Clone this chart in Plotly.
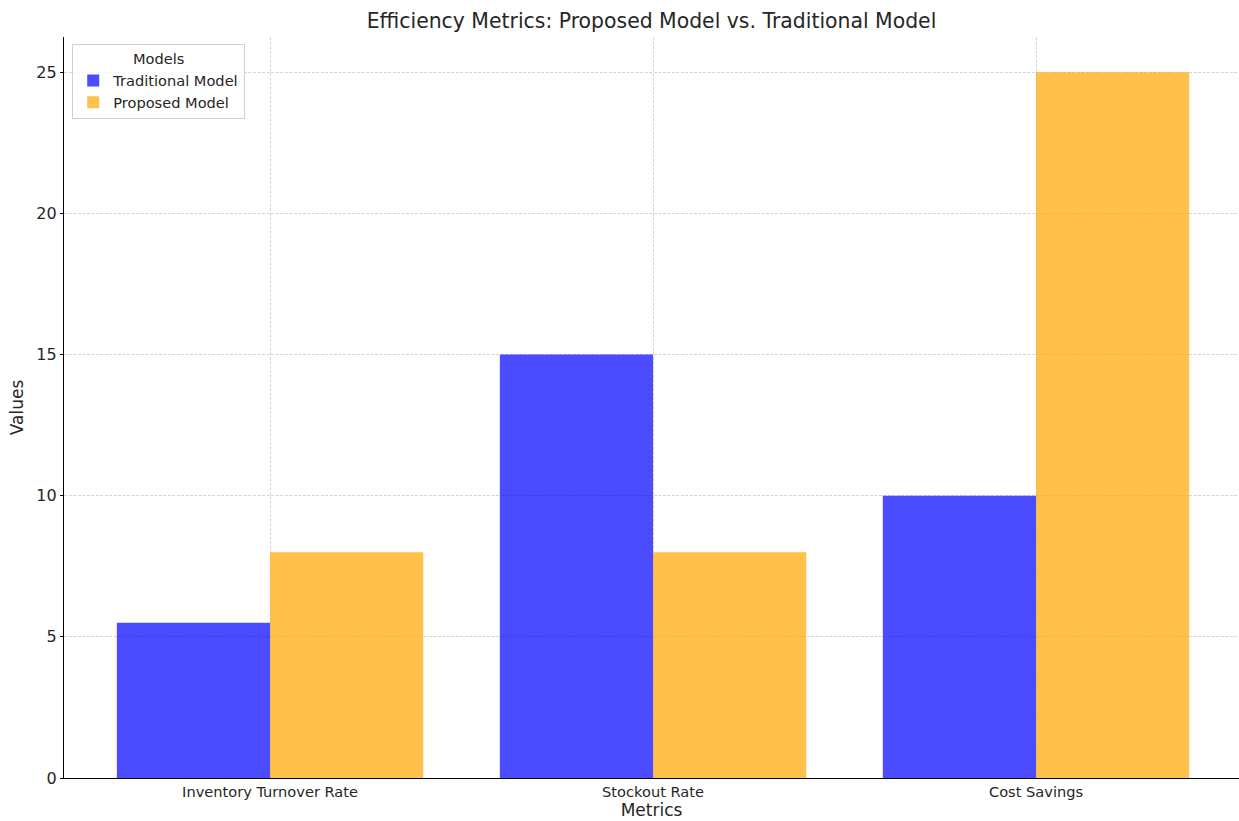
import plotly.graph_objects as go

categories = ["Inventory Turnover Rate", "Stockout Rate", "Cost Savings"]
traditional = [5.5, 15, 10]
proposed = [8, 8, 25]
y_ticks = [0, 5, 10, 15, 20, 25]

FONT = "DejaVu Sans"
fig = go.Figure()
fig.add_trace(go.Bar(x=categories, y=traditional, name="Traditional Model",
                     marker=dict(color="rgba(0,0,255,0.7)", line=dict(width=0))))
fig.add_trace(go.Bar(x=categories, y=proposed, name="Proposed Model",
                     marker=dict(color="rgba(255,165,0,0.7)", line=dict(width=0))))

fig.update_layout(
    width=1239, height=821,
    margin=dict(l=64, r=0, t=37, b=43),
    paper_bgcolor="white", plot_bgcolor="white",
    barmode="group", bargap=0.2, bargroupgap=0,
    font=dict(family=FONT, color="#262626"),
    title=dict(text="Efficiency Metrics: Proposed Model vs. Traditional Model",
               xref="paper", x=0.5, xanchor="center", y=0.975, yanchor="middle",
               font=dict(size=20.4, family=FONT, color="#262626")),
    legend=dict(x=0.007, y=0.99, xanchor="left", yanchor="top",
                bgcolor="rgba(255,255,255,0.8)", bordercolor="#d0d0d0", borderwidth=1,
                title=dict(text="Models", side="top center", font=dict(size=14.6)),
                font=dict(size=14.6), itemsizing="constant", tracegroupgap=0),
    xaxis=dict(range=[-0.538, 2.530], showline=True, linecolor="black", linewidth=1.2,
               ticks="", tickfont=dict(size=14.6),
               showgrid=True, gridcolor="#d6d6d6", griddash="3px,1.5px", gridwidth=0.8,
               title=dict(text="Metrics", font=dict(size=17), standoff=3),
               zeroline=False, mirror=False),
    yaxis=dict(range=[0, 26.25], showline=True, linecolor="black", linewidth=1.2,
               ticks="outside", ticklen=3, tickcolor="black",
               tickvals=y_ticks, tickfont=dict(size=16),
               showgrid=True, gridcolor="#d6d6d6", griddash="3px,1.5px", gridwidth=0.8,
               title=dict(text="Values", font=dict(size=17), standoff=8),
               zeroline=False, mirror=False),
)

fig.write_html("out.html")
